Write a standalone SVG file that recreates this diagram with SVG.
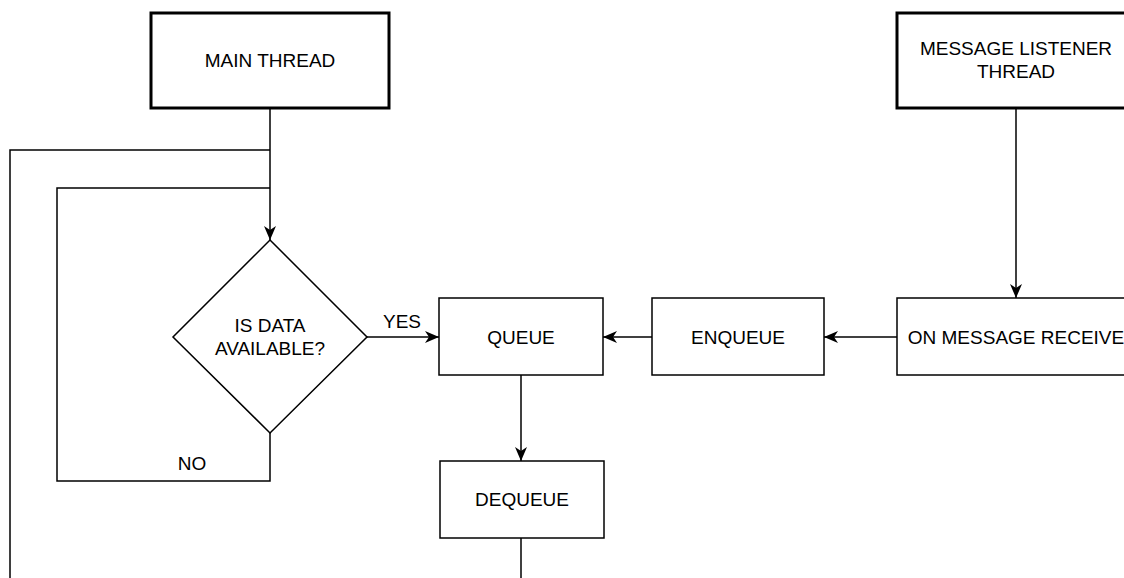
<svg xmlns="http://www.w3.org/2000/svg" width="1124" height="578" viewBox="0 0 1124 578">
<style>
.box{fill:#fff;stroke:#000;stroke-width:1.5}
.thick{fill:#fff;stroke:#000;stroke-width:3}
.ln{fill:none;stroke:#000;stroke-width:1.5}
.t{font-family:"Liberation Sans",Arial,sans-serif;font-size:19px;fill:#000;text-anchor:middle}
</style>
<defs>
<marker id="arr" viewBox="0 0 14 12" refX="14" refY="6" markerWidth="14" markerHeight="12" markerUnits="userSpaceOnUse" orient="auto">
<path d="M0,0 L14,6 L0,12 L4,6 Z" fill="#000"/>
</marker>
</defs>
<rect width="1124" height="578" fill="#fff"/>
<g id="connectors">
<path class="ln" d="M270,108 V240" marker-end="url(#arr)"/>
<path class="ln" d="M270,150 H10 V578"/>
<path class="ln" d="M270,188 H57 V481 H270 V433"/>
<path class="ln" d="M367,337 H439" marker-end="url(#arr)"/>
<path class="ln" d="M652,337 H603" marker-end="url(#arr)"/>
<path class="ln" d="M897,337 H824" marker-end="url(#arr)"/>
<path class="ln" d="M1016,108 V298" marker-end="url(#arr)"/>
<path class="ln" d="M521,375 V461" marker-end="url(#arr)"/>
<path class="ln" d="M521,538 V578"/>
<text class="t" x="402" y="328">YES</text>
<text class="t" x="192" y="470">NO</text>
</g>
<g id="main-thread">
<rect class="thick" x="151" y="13" width="238" height="95"/>
<text class="t" x="270" y="67">MAIN THREAD</text>
</g>
<g id="listener-thread">
<rect class="thick" x="897" y="13" width="238" height="95"/>
<text class="t" x="1016" y="55">MESSAGE LISTENER</text>
<text class="t" x="1016" y="78">THREAD</text>
</g>
<g id="decision">
<path class="box" d="M270,240 L367,337 L270,433 L173,337 Z"/>
<text class="t" x="270" y="332">IS DATA</text>
<text class="t" x="270" y="355">AVAILABLE?</text>
</g>
<g id="queue">
<rect class="box" x="439" y="298" width="164" height="77"/>
<text class="t" x="521" y="344">QUEUE</text>
</g>
<g id="enqueue">
<rect class="box" x="652" y="298" width="172" height="77"/>
<text class="t" x="738" y="344">ENQUEUE</text>
</g>
<g id="on-message">
<rect class="box" x="897" y="298" width="238" height="77"/>
<text class="t" x="1016" y="344">ON MESSAGE RECEIVE</text>
</g>
<g id="dequeue">
<rect class="box" x="440" y="461" width="164" height="77"/>
<text class="t" x="522" y="506">DEQUEUE</text>
</g>
</svg>
